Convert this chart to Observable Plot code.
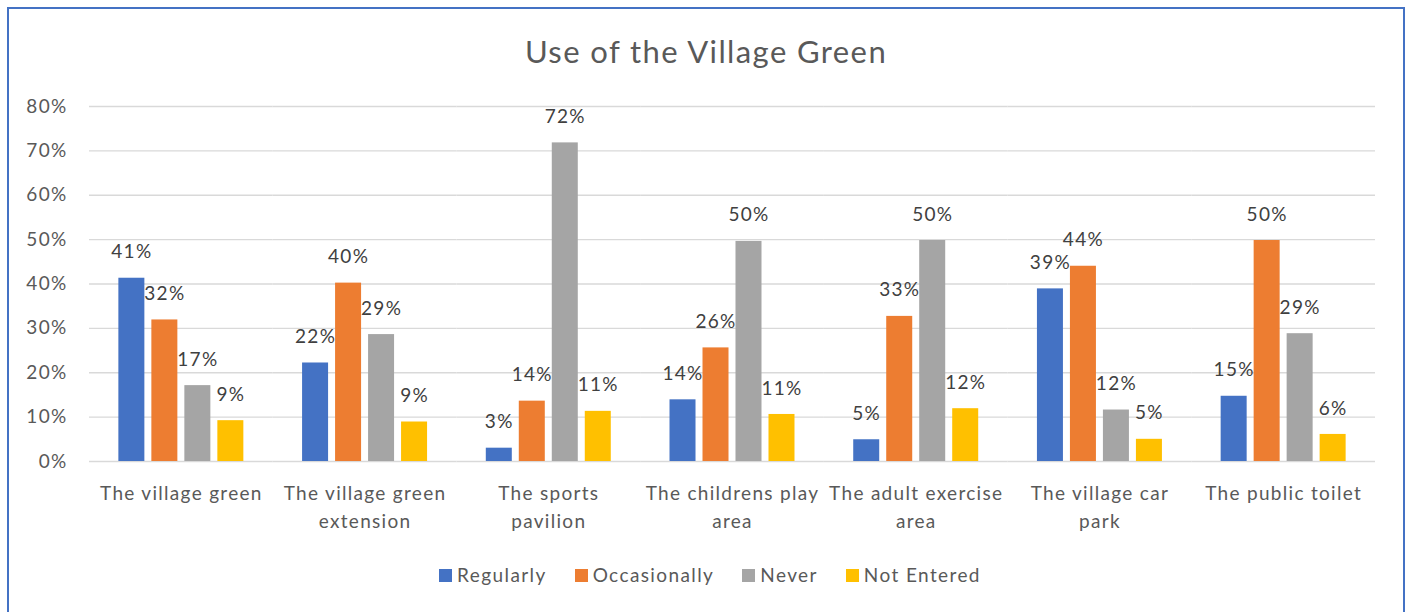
<!DOCTYPE html>
<html>
<head>
<meta charset="utf-8">
<script src="https://cdn.jsdelivr.net/npm/d3@7"></script>
<script src="https://cdn.jsdelivr.net/npm/@observablehq/plot@0.6"></script>
<style>
  html, body { margin: 0; padding: 0; background: #fff; width: 1408px; height: 612px; overflow: hidden; font-family: Lato, "Open Sans", sans-serif; }
  #frame { position: absolute; left: 7px; top: 7px; width: 1394px; height: 700px; border: 2px solid #4472C4; box-sizing: content-box; }
  #title { position: absolute; left: 0; top: 31px; width: 1412px; text-align: center; font-size: 31px; color: #595959; line-height: 40px; letter-spacing: 1.4px; }
  #chart { position: absolute; left: 0; top: 90px; }
  #chart svg text { letter-spacing: 1.3px; }
  #legend { position: absolute; left: 0; top: 563px; width: 1420px; display: flex; justify-content: center; gap: 28px; font-size: 19px; color: #595959; line-height: 24px; letter-spacing: 1.4px; }
  .item { display: flex; align-items: center; gap: 5px; }
  .sw { width: 13px; height: 13px; display: inline-block; }
</style>
</head>
<body>
<div id="frame"></div>
<div id="title">Use of the Village Green</div>
<div id="chart"></div>
<div id="legend"></div>
<script>
const categories = ["The village green", "The village green extension", "The sports pavilion", "The childrens play area", "The adult exercise area", "The village car park", "The public toilet"];
const categoryLabels = ["The village green", "The village green\nextension", "The sports\npavilion", "The childrens play\narea", "The adult exercise\narea", "The village car\npark", "The public toilet"];
const series = ["Regularly", "Occasionally", "Never", "Not Entered"];
const regularly    = [41.3, 22.2, 3.0, 13.9, 4.9, 38.9, 14.7];
const occasionally = [31.9, 40.2, 13.6, 25.6, 32.7, 44.0, 49.8];
const never        = [17.1, 28.6, 71.8, 49.6, 49.8, 11.6, 28.8];
const notEntered   = [9.2, 8.9, 11.3, 10.6, 11.9, 5.0, 6.1];
const yTicks = [0, 10, 20, 30, 40, 50, 60, 70, 80];
const colors = ["#4472C4", "#ED7D31", "#A5A5A5", "#FFC000"];

const seriesValues = [regularly, occasionally, never, notEntered];
const data = categories.flatMap((c, i) => series.map((s, j) => ({category: c, series: s, value: seriesValues[j][i]})));
const labelOf = new Map(categories.map((c, i) => [c, categoryLabels[i]]));

const chart = Plot.plot({
  width: 1408,
  height: 460,
  marginLeft: 89,
  marginRight: 33,
  marginTop: 16,
  marginBottom: 89,
  style: {fontFamily: "Lato, 'Open Sans', sans-serif", fontSize: "19px", color: "#595959", background: "transparent"},
  fx: {domain: categories, padding: 0, round: false, label: null},
  x: {domain: series, paddingInner: 0.212, paddingOuter: 0.89, round: false, axis: null},
  y: {domain: [0, 80], label: null},
  color: {domain: series, range: colors},
  marks: [
    Plot.ruleY(yTicks, {stroke: "#D9D9D9", strokeWidth: 1.3}),
    Plot.barY(data, {fx: "category", x: "series", y: "value", fill: "series"}),
    Plot.text(data, {fx: "category", x: "series", y: "value", text: d => Math.round(d.value) + "%", dy: -26, fill: "#404040", fontSize: 19}),
    Plot.axisY(yTicks, {tickSize: 0, tickPadding: 22, tickFormat: d => d + "%", label: null, fontSize: 19, fill: "#595959"}),
    Plot.axisFx({anchor: "bottom", tickSize: 0, tickPadding: 19, label: null, tickFormat: d => labelOf.get(d), fontSize: 19, lineHeight: 1.45, fill: "#595959"})
  ]
});
document.getElementById("chart").appendChild(chart);

const legend = document.getElementById("legend");
series.forEach((s, i) => {
  const item = document.createElement("div");
  item.className = "item";
  const sw = document.createElement("span");
  sw.className = "sw";
  sw.style.background = colors[i];
  const t = document.createElement("span");
  t.textContent = s;
  item.appendChild(sw);
  item.appendChild(t);
  legend.appendChild(item);
});
</script>
</body>
</html>
